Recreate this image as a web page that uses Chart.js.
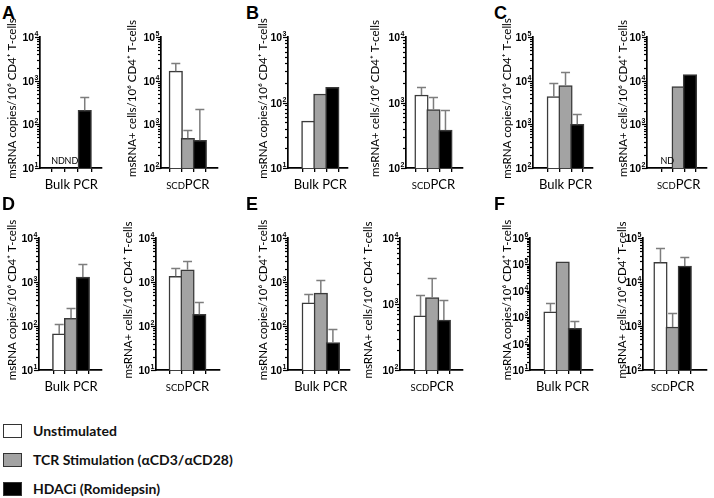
<!DOCTYPE html>
<html>
<head>
<meta charset="utf-8">
<script src="https://cdn.jsdelivr.net/npm/chart.js@4.4.0/dist/chart.umd.min.js"></script>
<style>
  body { margin: 0; width: 714px; height: 498px; background: #fff; position: relative; overflow: hidden; font-family: Lato, sans-serif; }
  .letter { position: absolute; font: bold 18px "Liberation Sans", Arial, sans-serif; line-height: 18px; color: #000; }
  .box { position: absolute; }
  .legend { position: absolute; left: 3px; top: 416px; }
  .legend-row { display: flex; align-items: center; height: 29px; font-size: 14px; font-weight: bold; color: #111; }
  .swatch { width: 17px; height: 12px; border: 1.5px solid #333; margin-right: 11px; }
</style>
</head>
<body>
<div id="root"></div>
<div class="legend" id="legend"></div>
<script>
// conditions / colours
const conditions = ['Unstimulated', 'TCR Stimulation (αCD3/αCD28)', 'HDACi (Romidepsin)'];
const barFills = ['#ffffff', '#a3a3a3', '#000000'];
const xSlots = [1, 2, 3];
const panelLetters = ['A', 'B', 'C', 'D', 'E', 'F'];

// y axis range per panel, as [min exponent, max exponent]
const bulkDecades = [[1, 4], [1, 3], [2, 5], [1, 4], [1, 4], [1, 6]];
const scdDecades = [[2, 5], [2, 4], [2, 5], [1, 4], [2, 4], [2, 5]];

// Bulk PCR - msRNA copies / 10^6 CD4+ T-cells (null = ND)
const bulkA = [null, null, 210];      const bulkAErr = [null, null, 430];
const bulkB = [52, 135, 170];         const bulkBErr = [null, null, null];
const bulkC = [4300, 7700, 1000];     const bulkCErr = [9000, 16000, 1700];
const bulkD = [66, 150, 1300];        const bulkDErr = [110, 255, 2500];
const bulkE = [335, 560, 42];         const bulkEErr = [530, 1100, 86];
const bulkF = [1600, 125000, 380];    const bulkFErr = [3400, null, 700];

// scdPCR - msRNA+ cells / 10^6 CD4+ T-cells (null = ND)
const scdA = [16500, 480, 430];       const scdAErr = [25000, 740, 2200];
const scdB = [1300, 780, 380];        const scdBErr = [1700, 1200, 780];
const scdC = [null, 7300, 13700];     const scdCErr = [null, null, null];
const scdD = [1350, 1900, 185];       const scdDErr = [2100, 3000, 360];
const scdE = [660, 1250, 570];        const scdEErr = [1350, 2450, 1130];
const scdF = [28000, 950, 23000];     const scdFErr = [58000, 2000, 37000];

const bulkValues = [bulkA, bulkB, bulkC, bulkD, bulkE, bulkF];
const bulkErrors = [bulkAErr, bulkBErr, bulkCErr, bulkDErr, bulkEErr, bulkFErr];
const scdValues = [scdA, scdB, scdC, scdD, scdE, scdF];
const scdErrors = [scdAErr, scdBErr, scdCErr, scdDErr, scdEErr, scdFErr];

// page layout (pixels)
const rowTop = [37, 238];
const rowHeight = [131, 132];
const letterPos = [[2, 4], [246, 4], [494, 4], [2, 195], [246, 195], [494, 195]];
const bulkLayout = [
  { titleX: 12, axisX: 40, right: 102, xMin: 0.42, xMax: 3.52 },
  { titleX: 263, axisX: 288, right: 348, xMin: 0.14, xMax: 3.47 },
  { titleX: 507, axisX: 533, right: 593, xMin: 0.08, xMax: 3.49 },
  { titleX: 12, axisX: 39, right: 102, xMin: 0.18, xMax: 3.73 },
  { titleX: 263, axisX: 288, right: 350, xMin: 0.14, xMax: 3.56 },
  { titleX: 507, axisX: 530, right: 593, xMin: 0.18, xMax: 3.63 }
];
const scdLayout = [
  { titleX: 132, axisX: 161, right: 218, xMin: 0.56, xMax: 3.72 },
  { titleX: 375, axisX: 406, right: 463, xMin: 0.5, xMax: 3.67 },
  { titleX: 623, axisX: 647, right: 707, xMin: 0.09, xMax: 3.62 },
  { titleX: 128, axisX: 156, right: 220, xMin: 0.23, xMax: 3.85 },
  { titleX: 368, axisX: 400, right: 463, xMin: 0.14, xMax: 3.74 },
  { titleX: 622, axisX: 643, right: 707, xMin: 0.44, xMax: 3.95 }
];

const PAD_TOP = 35;
const X_AXIS_H = 28;

// log axis: minor + major ticks, 10^n labels and rotated axis title
const logAxisPlugin = {
  id: 'logAxis',
  afterDraw(chart, args, opts) {
    const y = chart.scales.y;
    const ctx = chart.ctx;
    const area = chart.chartArea;
    const x0 = area.left;
    ctx.save();
    ctx.strokeStyle = '#000';
    ctx.fillStyle = '#000';
    ctx.lineWidth = 1.2;
    y.ticks.forEach(t => {
      const py = Math.round(y.getPixelForValue(t.value)) + 0.5;
      const len = t.major ? 5 : 3;
      ctx.beginPath();
      ctx.moveTo(x0 - len, py);
      ctx.lineTo(x0, py);
      ctx.stroke();
      if (t.major) {
        const exp = String(Math.round(Math.log10(t.value)));
        ctx.textAlign = 'right';
        ctx.textBaseline = 'alphabetic';
        ctx.font = 'bold 7px "Liberation Sans", Arial, sans-serif';
        const ew = ctx.measureText(exp).width;
        ctx.fillText(exp, x0 - 1.5, py - 1.5);
        ctx.font = 'bold 10.5px "Liberation Sans", Arial, sans-serif';
        ctx.textBaseline = 'middle';
        ctx.fillText('10', x0 - 2 - ew, py + 1);
      }
    });
    // y title, slightly above the plot centre
    ctx.translate(opts.titleX, (area.top + area.bottom) / 2 - 4);
    ctx.rotate(-Math.PI / 2);
    ctx.font = '11.5px Lato, sans-serif';
    ctx.textAlign = 'center';
    ctx.textBaseline = 'middle';
    ctx.fillText(opts.title, 0, 0);
    ctx.restore();
  }
};

// upper error bars, ND markers and x axis caption
const extrasPlugin = {
  id: 'extras',
  afterDatasetsDraw(chart, args, opts) {
    const ctx = chart.ctx;
    const x = chart.scales.x;
    const y = chart.scales.y;
    const meta = chart.getDatasetMeta(0);
    const vals = opts.values;
    ctx.save();
    ctx.strokeStyle = '#7d7d7d';
    ctx.lineWidth = 1.5;
    vals.forEach((v, i) => {
      const px = x.getPixelForValue(xSlots[i]);
      if (v === null) {
        ctx.fillStyle = '#000';
        ctx.font = '9px Lato, sans-serif';
        ctx.textAlign = 'center';
        ctx.textBaseline = 'alphabetic';
        ctx.fillText('ND', px, chart.chartArea.bottom - 4);
        return;
      }
      const e = opts.errors[i];
      if (e == null) return;
      const bar = meta.data[i];
      const ye = Math.round(y.getPixelForValue(e)) + 0.5;
      ctx.beginPath();
      ctx.moveTo(px, bar.y);
      ctx.lineTo(px, ye);
      ctx.moveTo(px - 4.5, ye);
      ctx.lineTo(px + 4.5, ye);
      ctx.stroke();
    });
    ctx.restore();
  },
  afterDraw(chart, args, opts) {
    const ctx = chart.ctx;
    const cx = chart.scales.x.getPixelForValue(xSlots[1]);
    const cy = chart.chartArea.bottom + 16;
    ctx.save();
    ctx.fillStyle = '#000';
    ctx.textBaseline = 'alphabetic';
    ctx.textAlign = 'left';
    const parts = opts.caption;
    let total = 0;
    parts.forEach(p => { ctx.font = p.size + 'px Lato, sans-serif'; p.w = ctx.measureText(p.text).width; total += p.w; });
    let px = cx - total / 2;
    parts.forEach(p => {
      ctx.font = p.size + 'px Lato, sans-serif';
      ctx.fillText(p.text, px, cy + 4.5);
      px += p.w;
    });
    ctx.restore();
  }
};

function buildChart(row, lay, values, errors, decades, yTitle, caption) {
  const left = Math.round(lay.titleX - 9);
  const width = lay.right + 4 - left;
  const height = PAD_TOP + rowHeight[row] + X_AXIS_H;
  const box = document.createElement('div');
  box.className = 'box';
  box.style.left = left + 'px';
  box.style.top = (rowTop[row] - PAD_TOP) + 'px';
  box.style.width = width + 'px';
  box.style.height = height + 'px';
  const canvas = document.createElement('canvas');
  canvas.width = width;
  canvas.height = height;
  box.appendChild(canvas);
  document.getElementById('root').appendChild(box);

  new Chart(canvas.getContext('2d'), {
    type: 'bar',
    data: {
      datasets: [{
        data: values.map((v, i) => ({ x: xSlots[i], y: v })),
        backgroundColor: barFills,
        borderColor: '#3a3a3a',
        borderWidth: 1.5,
        barThickness: 13.5
      }]
    },
    options: {
      responsive: false,
      animation: false,
      devicePixelRatio: 1,
      layout: { padding: { top: PAD_TOP, right: 4, left: 0, bottom: 0 } },
      plugins: {
        legend: { display: false },
        tooltip: { enabled: false },
        logAxis: { title: yTitle, titleX: lay.titleX - left },
        extras: { values: values, errors: errors, caption: caption }
      },
      scales: {
        x: {
          type: 'linear',
          min: lay.xMin,
          max: lay.xMax,
          afterBuildTicks: s => { s.ticks = xSlots.map(v => ({ value: v })); },
          afterFit: s => { s.height = X_AXIS_H; },
          ticks: { display: false },
          grid: { display: true, drawOnChartArea: false, drawTicks: true, tickLength: 4, color: '#000', lineWidth: 1.3 },
          border: { display: true, color: '#000', width: 1.7 }
        },
        y: {
          type: 'logarithmic',
          min: Math.pow(10, decades[0]),
          max: Math.pow(10, decades[1]),
          afterBuildTicks: s => {
            const t = [];
            for (let d = decades[0]; d <= decades[1]; d++) {
              for (let k = 1; k <= 9; k++) {
                if (d === decades[1] && k > 1) break;
                t.push({ value: k * Math.pow(10, d), major: k === 1 });
              }
            }
            s.ticks = t;
          },
          afterFit: s => { s.width = lay.axisX - left; },
          ticks: { display: false },
          grid: { display: false },
          border: { display: true, color: '#000', width: 1.7 },
          title: { display: false }
        }
      }
    },
    plugins: [logAxisPlugin, extrasPlugin]
  });
}

panelLetters.forEach((letter, p) => {
  const row = p < 3 ? 0 : 1;
  const el = document.createElement('div');
  el.className = 'letter';
  el.textContent = letter;
  el.style.left = letterPos[p][0] + 'px';
  el.style.top = letterPos[p][1] + 'px';
  document.getElementById('root').appendChild(el);

  buildChart(row, bulkLayout[p], bulkValues[p], bulkErrors[p], bulkDecades[p],
    'msRNA copies/10⁶ CD4⁺ T-cells', [{ text: 'Bulk PCR', size: 13 }]);
  buildChart(row, scdLayout[p], scdValues[p], scdErrors[p], scdDecades[p],
    'msRNA+ cells/10⁶ CD4⁺ T-cells', [{ text: 'SCD', size: 9.5 }, { text: 'PCR', size: 13 }]);
});

// legend
const legend = document.getElementById('legend');
conditions.forEach((name, i) => {
  const row = document.createElement('div');
  row.className = 'legend-row';
  const sw = document.createElement('span');
  sw.className = 'swatch';
  sw.style.background = barFills[i];
  row.appendChild(sw);
  row.appendChild(document.createTextNode(name));
  legend.appendChild(row);
});
</script>
</body>
</html>
